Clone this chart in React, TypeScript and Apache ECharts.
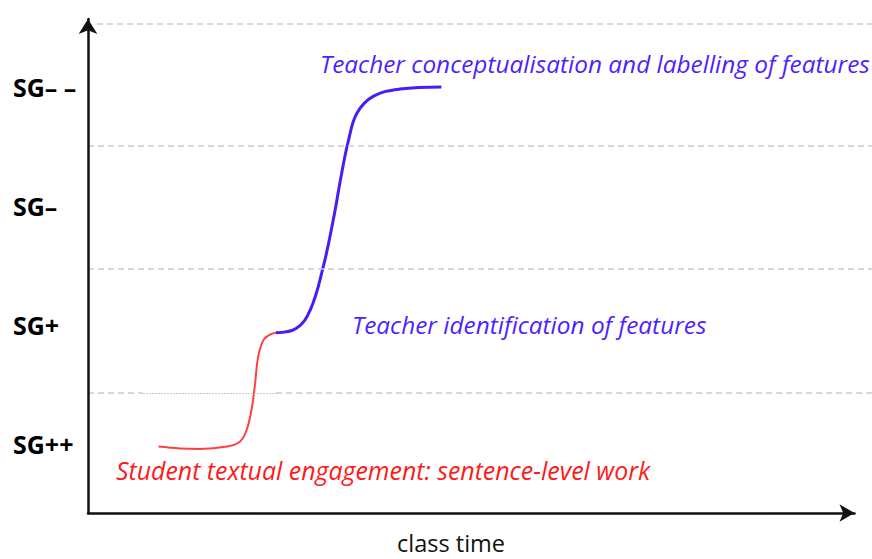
import React, { useEffect, useRef } from "react";
import * as echarts from "echarts";

// Y level names (bottom to top) and where they sit on the level scale
const levelNames = ["SG++", "SG+", "SG–", "SG– –"];
const levelLabelPos = [0.565, 1.54, 2.51, 3.48];

// Dashed gridline levels
const gridLevels = [0.98, 2.0, 3.0, 4.0];

// Student (red) curve: [class time, semantic level]
const studentCurve: [number, number][] = [
  [9.2, 0.543], [12.0, 0.528], [14.6, 0.524], [18.1, 0.543], [19.8, 0.583],
  [20.7, 0.679], [21.4, 0.87], [21.8, 1.061], [22.2, 1.279], [22.9, 1.416],
  [23.7, 1.457], [24.5, 1.475],
];

// Teacher (blue) curve
const teacherCurve: [number, number][] = [
  [24.5, 1.475], [27.2, 1.511], [29.0, 1.661], [30.7, 2.016], [32.0, 2.398],
  [33.1, 2.78], [34.0, 3.052], [35.1, 3.271], [37.2, 3.407], [40.7, 3.467],
  [46.1, 3.484],
];

const annotations = [
  { text: "Teacher conceptualisation and labelling of features", color: "#4f1fff", x: 320, y: 63, size: 24.4 },
  { text: "Teacher identification of features", color: "#4f1fff", x: 352, y: 324, size: 24.4 },
  { text: "Student textual engagement: sentence-level work", color: "#ff1a1a", x: 116, y: 470, size: 24.9 },
];

const xAxisName = "class time";

export default function App() {
  const ref = useRef<HTMLDivElement>(null);
  useEffect(() => {
    if (!ref.current) return;
    const chart = echarts.init(ref.current, null, { renderer: "svg" });
    const dashed = { type: [6, 4] as any, color: "#cbcbcb", width: 1.6 };
    const dotted = { type: [2, 1] as any, color: "#c6c6c6", width: 1 };
    const gridSegs: any[] = [];
    gridLevels.forEach((lv, i) => {
      if (i === 0) {
        gridSegs.push([{ coord: [0, lv], lineStyle: dashed }, { coord: [7.0, lv] }]);
        gridSegs.push([{ coord: [7.0, lv], lineStyle: dotted }, { coord: [24.0, lv] }]);
        gridSegs.push([{ coord: [24.0, lv], lineStyle: dashed }, { coord: [100, lv] }]);
      } else {
        const start = i === gridLevels.length - 1 ? 1.15 : 0;
        gridSegs.push([{ coord: [start, lv], lineStyle: dashed }, { coord: [100, lv] }]);
      }
    });
    const font = "'Open Sans'";
    chart.setOption({
      animation: false,
      grid: [
        { left: 88, top: 19, right: 17.5, bottom: 46 },
        { left: 88, top: 19, right: 0, bottom: 46 },
      ],
      xAxis: [
        {
          type: "value",
          gridIndex: 0,
          min: 0,
          max: 100,
          axisLine: {
            show: true,
            symbol: ["none", "arrow"],
            symbolSize: [13, 15],
            lineStyle: { color: "#111", width: 2.5 },
          },
          axisTick: { show: false },
          axisLabel: { show: false },
          splitLine: { show: false },
          z: 5,
        },
        {
          type: "value",
          gridIndex: 1,
          min: 0,
          max: 100,
          show: false,
        },
      ],
      yAxis: [
        {
          type: "value",
          gridIndex: 0,
          min: 0,
          max: 4.04,
          axisLine: {
            show: true,
            symbol: ["none", "arrow"],
            symbolSize: [14, 15],
            lineStyle: { color: "#111", width: 2.5 },
          },
          axisTick: { show: false },
          splitLine: { show: false },
          z: 5,
          axisLabel: {
            show: true,
            customValues: levelLabelPos,
            align: "left",
            margin: 75,
            color: "#000",
            fontFamily: font,
            fontWeight: "bold",
            fontSize: 25,
            formatter: (v: number) => {
              let best = 0;
              levelLabelPos.forEach((p, i) => {
                if (Math.abs(p - v) < Math.abs(levelLabelPos[best] - v)) best = i;
              });
              return levelNames[best];
            },
          },
        },
        {
          type: "value",
          gridIndex: 1,
          min: 0,
          max: 4.04,
          show: false,
        },
      ],
      series: [
        {
          type: "line",
          xAxisIndex: 1,
          yAxisIndex: 1,
          data: [],
          silent: true,
          markLine: {
            silent: true,
            symbol: "none",
            label: { show: false },
            data: gridSegs,
          },
          z: 1,
        },
        {
          type: "line",
          data: studentCurve,
          smooth: 0.4,
          symbol: "none",
          clip: false,
          lineStyle: { color: "#ff4040", width: 2 },
          z: 3,
        },
        {
          type: "line",
          data: teacherCurve,
          smooth: 0.4,
          symbol: "none",
          clip: false,
          lineStyle: { color: "#4a1cf5", width: 3 },
          z: 3,
        },
      ],
      graphic: [
        ...annotations.map((a) => ({
          type: "text",
          x: a.x,
          y: a.y,
          style: {
            text: a.text,
            fill: a.color,
            font: `italic ${a.size}px ${font}`,
            textVerticalAlign: "middle",
          },
        })),
        {
          type: "text",
          x: 451,
          y: 543,
          style: {
            text: xAxisName,
            fill: "#111",
            font: `23.5px ${font}`,
            textAlign: "center",
            textVerticalAlign: "middle",
          },
        },
      ],
    });
    return () => chart.dispose();
  }, []);
  return <div ref={ref} style={{ width: 872, height: 559, position: "absolute", left: 0, top: 0 }} />;
}
